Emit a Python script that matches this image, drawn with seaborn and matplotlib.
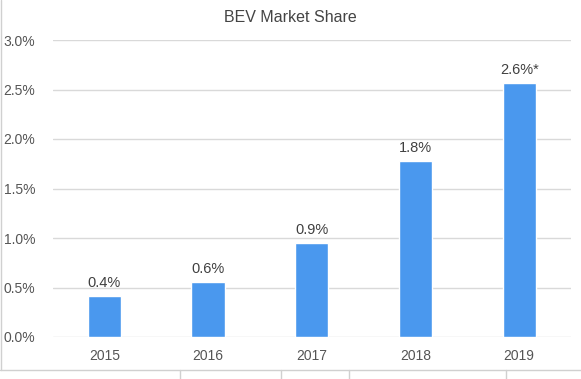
import matplotlib
matplotlib.use("Agg")
import matplotlib.pyplot as plt
import seaborn as sns
import pandas as pd
from matplotlib.lines import Line2D

years = ["2015", "2016", "2017", "2018", "2019"]
share = [0.41, 0.56, 0.95, 1.78, 2.57]
labels = ["0.4%", "0.6%", "0.9%", "1.8%", "2.6%*"]
yticks = [0.0, 0.5, 1.0, 1.5, 2.0, 2.5, 3.0]

sns.set_style("white")
plt.rcParams["font.family"] = ["Liberation Sans", "DejaVu Sans"]

df = pd.DataFrame({"year": years, "share": share})

fig = plt.figure(figsize=(5.81, 3.79), dpi=100)
ax = fig.add_axes([52.5 / 581, 1 - 337 / 379, 518.5 / 581, 297 / 379])

sns.barplot(data=df, x="year", y="share", color="#4a98ee", saturation=1,
            width=0.32, ax=ax, zorder=3)

for i, (v, t) in enumerate(zip(share, labels)):
    ax.text(i, v + 0.06, t, ha="center", va="bottom", fontsize=10.5, color="#404040")

ax.set_ylim(0, 3.0)
ax.set_yticks(yticks)
ax.set_yticklabels([f"{t:.1f}%" for t in yticks])
ax.grid(axis="y", color="#d9d9d9", linewidth=1, zorder=0)
ax.set_xlabel("")
ax.set_ylabel("")
for s in ax.spines.values():
    s.set_visible(False)
ax.tick_params(axis="both", length=0, labelsize=10, colors="#555555")
ax.tick_params(axis="x", pad=9)
ax.tick_params(axis="y", pad=12.5)

fig.text(0.5, 1 - 17 / 379, "BEV Market Share", ha="center", va="center",
         fontsize=11.5, color="#444444")

# frame of the embedded chart and surrounding cell borders
fc = "#d0d0d0"
fig.add_artist(Line2D([0.5 / 581, 0.5 / 581], [1 - 369.5 / 379, 1], transform=fig.transFigure, color=fc, lw=1))
fig.add_artist(Line2D([0, 1], [1 - 369.5 / 379, 1 - 369.5 / 379], transform=fig.transFigure, color=fc, lw=1))
for x in [180, 281, 349, 506]:
    fig.add_artist(Line2D([x / 581, x / 581], [0, 1 - 370 / 379], transform=fig.transFigure, color=fc, lw=1))

fig.savefig("out.png", dpi=100)
